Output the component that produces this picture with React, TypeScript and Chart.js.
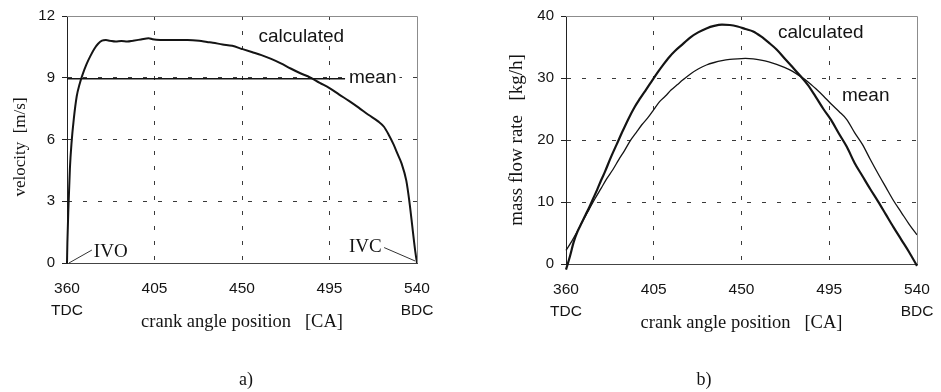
import React, { useEffect, useRef } from "react";
import { Chart, registerables } from "chart.js";

Chart.register(...registerables);

// ---------- data ----------
const xTicks = [360, 405, 450, 495, 540];
const xEndNotes = ["TDC", "BDC"];
const velTicks = [0, 3, 6, 9, 12];
const flowTicks = [0, 10, 20, 30, 40];

// a) velocity, calculated
const velAngle = [
  360, 360.2, 360.7, 361.5, 362.3, 363.5, 365, 366.5, 368, 370, 372, 374, 376, 378, 380, 382, 385, 388, 391, 394,
  398, 402, 404, 408, 415, 422, 428, 432, 435, 440, 445, 450, 455, 460, 465, 470, 475, 480, 485, 490, 495, 500,
  505, 510, 515, 520, 523, 525.5, 528, 530, 532, 534.5, 536.2, 537.8, 539.2, 540,
];
const velCalc = [
  0, 1.0, 2.6, 4.6, 5.8, 7.0, 8.1, 8.7, 9.15, 9.65, 10.05, 10.4, 10.65, 10.8, 10.83, 10.8, 10.76, 10.78, 10.76, 10.8,
  10.86, 10.92, 10.87, 10.84, 10.84, 10.84, 10.8, 10.74, 10.7, 10.62, 10.55, 10.4, 10.25, 10.1, 9.92, 9.7, 9.45,
  9.22, 9.02, 8.75, 8.5, 8.18, 7.88, 7.55, 7.2, 6.88, 6.62, 6.22, 5.75, 5.3, 4.85, 4.0, 2.9, 1.6, 0.5, 0,
];
// a) velocity, mean
const velMeanAngle = [360, 503];
const velMean = [8.95, 8.95];

// b) mass flow rate, calculated
const flowAngle = [
  360, 362, 364, 366, 368, 370, 372, 374, 376, 378, 380, 383, 386, 389, 392, 395, 398, 401, 404, 407, 410, 413, 416,
  420, 424, 428, 432, 436, 440, 444, 448, 452, 456, 460, 464, 468, 472, 476, 480, 484, 488, 492, 496, 500, 504, 508,
  512, 516, 520, 524, 528, 532, 536, 540,
];
const flowCalc = [
  -0.9, 1.2, 3.6, 5.3, 6.6, 7.9, 9.2, 10.6, 12.0, 13.5, 14.9, 17.2, 19.3, 21.4, 23.4, 25.2, 26.7, 28.1, 29.5, 30.9,
  32.2, 33.4, 34.4, 35.5, 36.6, 37.4, 38.0, 38.4, 38.6, 38.55, 38.3, 37.9, 37.5, 36.7, 35.7, 34.6, 33.2, 31.8, 30.4,
  28.9, 27.0, 25.0, 23.2, 21.0, 18.9, 16.3, 14.2, 12.1, 10.1, 8.0, 5.9, 3.9, 1.9, -0.3,
];
// b) mass flow rate, mean
const flowMeanAngle = [
  360, 363, 366, 369, 372, 375, 378, 381, 384, 387, 390, 393, 396, 399, 402, 405, 408, 411, 414, 417, 420, 424, 428,
  432, 436, 440, 444, 448, 452, 456, 460, 464, 468, 472, 476, 480, 484, 488, 492, 496, 500, 504, 508, 512, 516, 520,
  524, 528, 532, 536, 540,
];
const flowMean = [
  2.2, 3.7, 5.4, 7.2, 8.9, 10.6, 12.2, 13.8, 15.2, 16.8, 18.3, 19.9, 21.2, 22.5, 23.6, 24.9, 26.2, 27.1, 28.1, 28.9,
  29.7, 30.7, 31.5, 32.1, 32.5, 32.8, 33.0, 33.1, 33.15, 33.1, 32.9, 32.6, 32.2, 31.7, 31.1, 30.3, 29.4, 28.3, 27.1,
  25.8, 24.6, 23.3, 21.2, 19.3, 16.9, 14.6, 12.4, 10.2, 8.3, 6.4, 4.7,
];

// ---------- styling helpers ----------
const SANS = '"Liberation Sans", Arial, sans-serif';
const SERIF = '"Liberation Serif", "Times New Roman", serif';
const INK = "#141414";

type Txt = { text: string; x: number; y: number; font: string; bg?: boolean };
type Seg = { x1: number; y1: number; x2: number; y2: number };
type Decor = {
  texts: Txt[];
  segs: Seg[];
  yTitle: string;
  yTitleFont: string;
  yTitleX: number;
  yTitleY: number;
  xTitle: string;
  caption: string;
  captionX: number;
};

function makeDecor(d: Decor) {
  return {
    id: "decor",
    afterDraw(chart: any) {
      const { ctx, chartArea: a, scales } = chart;
      const xs = scales.x;
      const ys = scales.y;
      ctx.save();
      // top & right frame
      ctx.setLineDash([]);
      ctx.strokeStyle = "#8c8c8c";
      ctx.lineWidth = 1;
      ctx.beginPath();
      const ty = Math.round(a.top) + 0.5;
      const rx = Math.round(a.right) + 0.5;
      ctx.moveTo(a.left, ty);
      ctx.lineTo(rx, ty);
      ctx.moveTo(rx, ty);
      ctx.lineTo(rx, a.bottom);
      ctx.stroke();
      // leader lines
      ctx.strokeStyle = "#333";
      ctx.lineWidth = 1;
      for (const s of d.segs) {
        ctx.beginPath();
        ctx.moveTo(xs.getPixelForValue(s.x1), ys.getPixelForValue(s.y1));
        ctx.lineTo(xs.getPixelForValue(s.x2), ys.getPixelForValue(s.y2));
        ctx.stroke();
      }
      // in-plot labels
      ctx.textAlign = "left";
      ctx.textBaseline = "alphabetic";
      for (const t of d.texts) {
        ctx.font = t.font;
        const px = xs.getPixelForValue(t.x);
        const py = ys.getPixelForValue(t.y);
        if (t.bg) {
          const w = ctx.measureText(t.text).width;
          ctx.fillStyle = "#fff";
          ctx.fillRect(px - 3, py - 15, w + 6, 19);
        }
        ctx.fillStyle = INK;
        ctx.fillText(t.text, px, py);
      }
      // x title
      ctx.font = "18.5px " + SERIF;
      ctx.textAlign = "center";
      ctx.fillStyle = INK;
      ctx.fillText(d.xTitle, (a.left + a.right) / 2, a.bottom + 64);
      // caption
      ctx.font = "18px " + SERIF;
      ctx.fillText(d.caption, d.captionX, 385);
      // y title
      ctx.translate(d.yTitleX, d.yTitleY);
      ctx.rotate(-Math.PI / 2);
      ctx.font = d.yTitleFont;
      ctx.textBaseline = "middle";
      ctx.fillText(d.yTitle, 0, 0);
      ctx.restore();
    },
  };
}

function xScale(height: number) {
  return {
    type: "linear",
    min: 360,
    max: 540,
    afterBuildTicks: (s: any) => {
      s.ticks = xTicks.map((v) => ({ value: v }));
    },
    afterFit: (s: any) => {
      s.height = height;
      s.paddingLeft = 0;
      s.paddingRight = 0;
    },
    grid: {
      color: (c: any) =>
        c.tick && (c.tick.value === 360 || c.tick.value === 540) ? "rgba(0,0,0,0)" : "#3a3a3a",
      lineWidth: 1,
      drawTicks: false,
    },
    border: { display: true, color: "#444", width: 1, dash: [4, 11] },
    ticks: {
      autoSkip: false,
      maxRotation: 0,
      padding: 15,
      color: INK,
      font: { family: SANS, size: 15.5, lineHeight: 1.4 },
      callback: (v: number) => {
        const i = xTicks.indexOf(v);
        if (i === 0) return [String(v), xEndNotes[0]];
        if (i === xTicks.length - 1) return [String(v), xEndNotes[1]];
        return String(v);
      },
    },
  };
}

function yScale(ticks: number[], width: number) {
  const lo = ticks[0];
  const hi = ticks[ticks.length - 1];
  return {
    type: "linear",
    min: lo,
    max: hi,
    afterBuildTicks: (s: any) => {
      s.ticks = ticks.map((v) => ({ value: v }));
    },
    afterFit: (s: any) => {
      s.width = width;
      s.paddingTop = 0;
      s.paddingBottom = 0;
    },
    grid: {
      color: (c: any) =>
        c.tick && (c.tick.value === lo || c.tick.value === hi) ? "rgba(0,0,0,0)" : "#3a3a3a",
      lineWidth: 1,
      drawTicks: true,
      tickLength: 5,
      tickColor: "#222",
      tickWidth: 1,
      tickBorderDash: [],
    },
    border: { display: true, color: "#222", width: 1, dash: [4, 11] },
    ticks: {
      padding: 7,
      color: INK,
      font: { family: SANS, size: 15 },
    },
  };
}

function pts(xs: number[], ys: number[]) {
  return xs.map((x, i) => ({ x, y: ys[i] }));
}

function lineSet(data: { x: number; y: number }[], width: number) {
  return {
    data,
    borderColor: INK,
    borderWidth: width,
    pointRadius: 0,
    fill: false,
    cubicInterpolationMode: "monotone",
    clip: false,
  };
}

function ChartCanvas({ config, width, height }: { config: () => any; width: number; height: number }) {
  const ref = useRef<HTMLCanvasElement | null>(null);
  useEffect(() => {
    if (!ref.current) return;
    const chart = new Chart(ref.current, config());
    return () => chart.destroy();
  }, []);
  return <canvas ref={ref} width={width} height={height} style={{ width, height, display: "block" }} />;
}

const velocityConfig = () => ({
  type: "line",
  data: {
    datasets: [lineSet(pts(velAngle, velCalc), 2), lineSet(pts(velMeanAngle, velMean), 1.6)],
  },
  options: {
    animation: false,
    responsive: false,
    events: [],
    layout: { padding: { left: 0, right: 53, top: 16, bottom: 0 } },
    plugins: { legend: { display: false }, tooltip: { enabled: false } },
    scales: { x: xScale(129), y: yScale(velTicks, 67) },
  },
  plugins: [
    makeDecor({
      texts: [
        { text: "calculated", x: 458.5, y: 10.75, font: "19px " + SANS, bg: true },
        { text: "mean", x: 505, y: 8.73, font: "19px " + SANS, bg: true },
        { text: "IVO", x: 373.8, y: 0.29, font: "19px " + SERIF },
        { text: "IVC", x: 505, y: 0.53, font: "19px " + SERIF },
      ],
      segs: [
        { x1: 361, y1: 0, x2: 372.8, y2: 0.63 },
        { x1: 523.1, y1: 0.75, x2: 539, y2: 0.1 },
      ],
      yTitle: "velocity  [m/s]",
      yTitleFont: "17px " + SERIF,
      yTitleX: 21,
      yTitleY: 147,
      xTitle: "crank angle position   [CA]",
      caption: "a)",
      captionX: 246,
    }),
  ],
});

const flowConfig = () => ({
  type: "line",
  data: {
    datasets: [lineSet(pts(flowAngle, flowCalc), 2.2), lineSet(pts(flowMeanAngle, flowMean), 1.3)],
  },
  options: {
    animation: false,
    responsive: false,
    events: [],
    layout: { padding: { left: 0, right: 24, top: 16, bottom: 0 } },
    plugins: { legend: { display: false }, tooltip: { enabled: false } },
    scales: { x: xScale(128), y: yScale(flowTicks, 96) },
  },
  plugins: [
    makeDecor({
      texts: [
        { text: "calculated", x: 468.7, y: 36.5, font: "19px " + SANS, bg: true },
        { text: "mean", x: 501.5, y: 26.3, font: "19px " + SANS, bg: true },
      ],
      segs: [],
      yTitle: "mass flow rate   [kg/h]",
      yTitleFont: "19px " + SERIF,
      yTitleX: 47,
      yTitleY: 140,
      xTitle: "crank angle position   [CA]",
      caption: "b)",
      captionX: 234,
    }),
  ],
});

export default function App() {
  return (
    <div style={{ position: "absolute", left: 0, top: 0, width: 941, height: 392, background: "#fff" }}>
      <div style={{ position: "absolute", left: 0, top: 0 }}>
        <ChartCanvas config={velocityConfig} width={470} height={392} />
      </div>
      <div style={{ position: "absolute", left: 470, top: 0 }}>
        <ChartCanvas config={flowConfig} width={471} height={392} />
      </div>
    </div>
  );
}
